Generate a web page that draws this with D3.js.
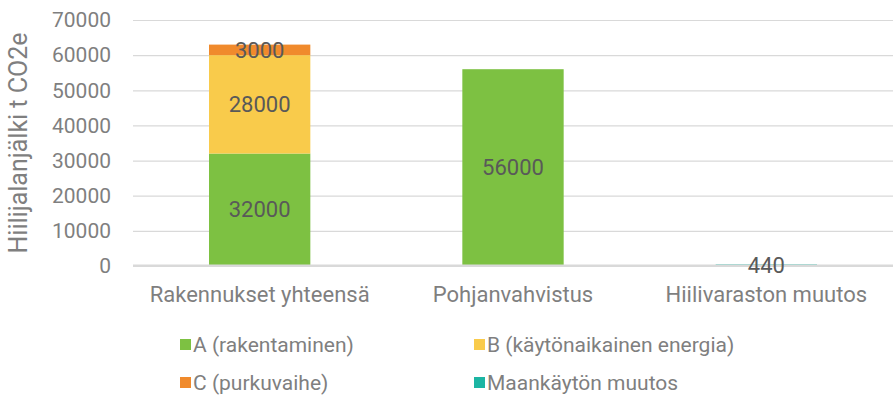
<!DOCTYPE html>
<html>
<head>
<meta charset="utf-8">
<script src="https://cdn.jsdelivr.net/npm/d3@7"></script>
<style>
  body { margin: 0; background: #fff; }
  text { font-family: Roboto, "Liberation Sans", Arial, sans-serif; }
</style>
</head>
<body>
<div id="chart"></div>
<script>
var chart_width = 896
var chart_height = 401

// data
var categories = ['Rakennukset yhteensä', 'Pohjanvahvistus', 'Hiilivaraston muutos']
var series_names = ['A (rakentaminen)', 'B (käytönaikainen energia)', 'C (purkuvaihe)', 'Maankäytön muutos']
var series_colors = ['#7dc142', '#f9cb4b', '#f08a2c', '#1cb5a3']
var a_values = [32000, 56000, 0]
var b_values = [28000, 0, 0]
var c_values = [3000, 0, 0]
var land_values = [0, 0, 440]
var y_ticks = [0, 10000, 20000, 30000, 40000, 50000, 60000, 70000]

var margin = { left: 133, right: 3, top: 20, bottom: 135 }

var svg = d3.select('#chart')
  .append('svg')
  .attr('width', chart_width)
  .attr('height', chart_height)

var rows = categories.map(function(c, i) {
  return { cat: c, a: a_values[i], b: b_values[i], c: c_values[i], m: land_values[i] }
})
var keys = ['a', 'b', 'c', 'm']
var stack = d3.stack().keys(keys)(rows)

var x_scale = d3.scaleBand()
  .domain(categories)
  .range([margin.left, chart_width - margin.right])
  .paddingInner(0.6)
  .paddingOuter(0.3)

var y_scale = d3.scaleLinear()
  .domain([0, 70000])
  .range([chart_height - margin.bottom, margin.top])

// gridlines
svg.append('g')
  .selectAll('line')
  .data(y_ticks)
  .enter().append('line')
  .attr('x1', margin.left)
  .attr('x2', chart_width - margin.right)
  .attr('y1', d => y_scale(d) + 0.5)
  .attr('y2', d => y_scale(d) + 0.5)
  .attr('stroke', '#d9d9d9')
  .attr('stroke-width', 1.2)

// y axis
var y_axis = d3.axisLeft(y_scale).tickValues(y_ticks).tickSize(0).tickPadding(22).tickFormat(d3.format('d'))
svg.append('g')
  .attr('transform', 'translate(' + margin.left + ',0)')
  .call(y_axis)
  .call(g => g.select('.domain').remove())
  .selectAll('text')
  .attr('fill', '#7f7f7f')
  .style('font-family', 'Roboto, "Liberation Sans", sans-serif')
  .style('font-size', '21px')

// bars
var groups = svg.append('g').selectAll('g')
  .data(stack)
  .enter().append('g')
  .attr('fill', (d, i) => series_colors[i])

groups.selectAll('rect')
  .data(d => d)
  .enter().append('rect')
  .attr('x', d => x_scale(d.data.cat))
  .attr('width', x_scale.bandwidth())
  .attr('y', d => y_scale(d[1]))
  .attr('height', d => y_scale(d[0]) - y_scale(d[1]))

// baseline over the bars
svg.append('line')
  .attr('x1', margin.left)
  .attr('x2', chart_width - margin.right)
  .attr('y1', y_scale(0) - 0.3)
  .attr('y2', y_scale(0) - 0.3)
  .attr('stroke', '#d9d9d9')
  .attr('stroke-width', 2.4)

// data labels
var labels = []
stack.forEach(function(s) {
  s.forEach(function(d) {
    if (d[1] - d[0] > 0) labels.push({ cat: d.data.cat, mid: (d[0] + d[1]) / 2, v: d[1] - d[0] })
  })
})
svg.append('g').selectAll('text')
  .data(labels)
  .enter().append('text')
  .attr('x', d => x_scale(d.cat) + x_scale.bandwidth() / 2)
  .attr('y', d => y_scale(d.mid))
  .attr('dy', '0.35em')
  .attr('text-anchor', 'middle')
  .attr('fill', '#595959')
  .style('font-size', '22px')
  .text(d => d.v)

// category labels
svg.append('g').selectAll('text')
  .data(categories)
  .enter().append('text')
  .attr('x', d => x_scale(d) + x_scale.bandwidth() / 2)
  .attr('y', y_scale(0) + 36)
  .attr('text-anchor', 'middle')
  .attr('fill', '#7f7f7f')
  .style('font-size', '22px')
  .text(d => d)

// y axis title
svg.append('text')
  .attr('transform', 'translate(27,' + ((margin.top + y_scale(0)) / 2) + ') rotate(-90)')
  .attr('text-anchor', 'middle')
  .attr('fill', '#7f7f7f')
  .style('font-size', '25px')
  .text('Hiilijalanjälki t CO2e')

// legend
var legend_x = [180, 474]
var legend_y = [345, 383]
var legend = svg.append('g').selectAll('g')
  .data(series_names)
  .enter().append('g')
  .attr('transform', (d, i) => 'translate(' + legend_x[i % 2] + ',' + legend_y[Math.floor(i / 2)] + ')')

legend.append('rect')
  .attr('x', 0)
  .attr('y', -6)
  .attr('width', 11)
  .attr('height', 11)
  .attr('fill', (d, i) => series_colors[i])

legend.append('text')
  .attr('x', 13)
  .attr('y', 0)
  .attr('dy', '0.35em')
  .attr('fill', '#7f7f7f')
  .style('font-size', '21px')
  .text(d => d)
</script>
</body>
</html>
